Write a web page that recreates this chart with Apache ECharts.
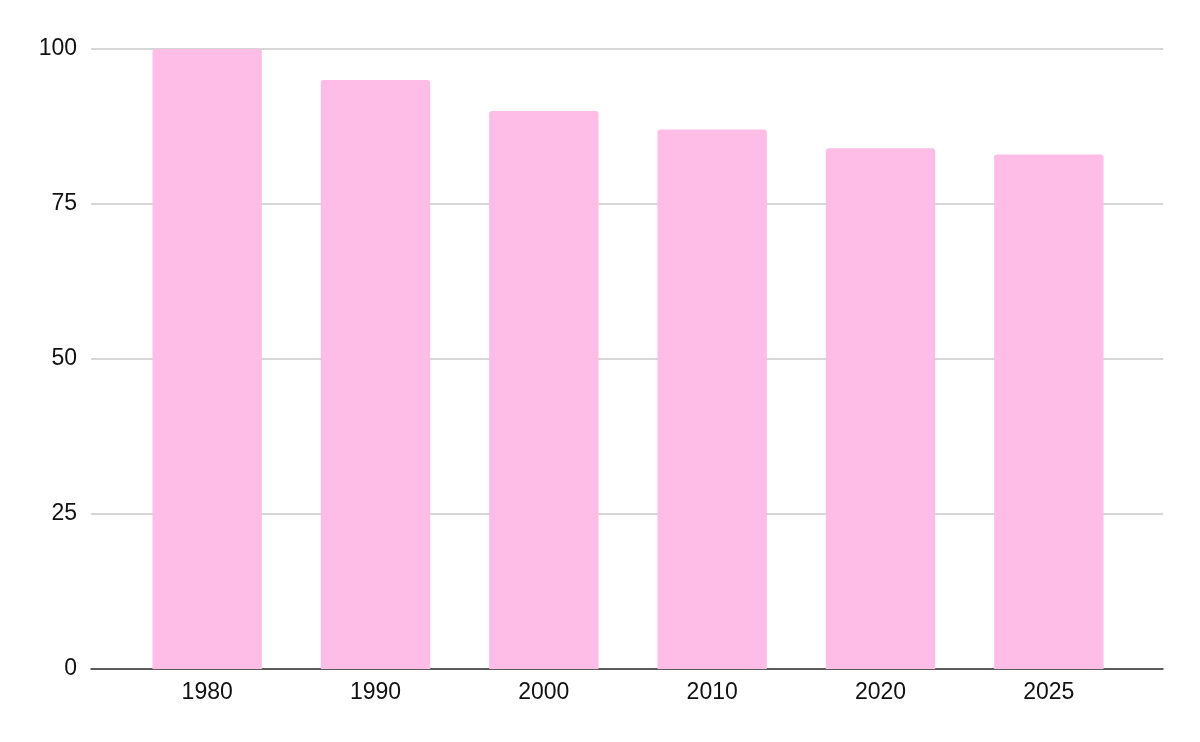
<!DOCTYPE html>
<html>
<head>
<meta charset="utf-8">
<script src="https://cdn.jsdelivr.net/npm/echarts@6/dist/echarts.min.js"></script>
<style>
  html, body { margin: 0; padding: 0; background: #fff; }
  #chart { width: 1200px; height: 742px; }
</style>
</head>
<body>
<div id="chart"></div>
<script>
const years = ['1980', '1990', '2000', '2010', '2020', '2025']
const values = [100, 95, 90, 87, 84, 83]
const yTicks = [0, 25, 50, 75, 100]

const font = 'Liberation Sans, Arial, sans-serif'
const chart = echarts.init(document.getElementById('chart'))

// grid 0 holds the frame (gridlines, y labels, baseline), grid 1 holds the bars
chart.setOption({
  animation: false,
  grid: [
    { left: 91, right: 37, top: 49, bottom: 73 },
    { left: 123, right: 67, top: 49, bottom: 73 }
  ],
  xAxis: [
    {
      gridIndex: 0, type: 'category', data: years,
      axisLine: { lineStyle: { color: '#333', width: 1.5 } },
      axisTick: { show: false }, axisLabel: { show: false }
    },
    {
      gridIndex: 1, type: 'category', data: years,
      axisLine: { show: false }, axisTick: { show: false },
      axisLabel: { color: '#111', fontSize: 23, fontFamily: font, margin: 12 }
    }
  ],
  yAxis: [
    {
      gridIndex: 0, type: 'value', min: yTicks[0], max: yTicks[yTicks.length - 1], interval: 25,
      axisLine: { show: false }, axisTick: { show: false },
      axisLabel: { color: '#111', fontSize: 23, fontFamily: font, margin: 14 },
      splitLine: { lineStyle: { color: '#c8c8c8', width: 1.5 } }
    },
    {
      gridIndex: 1, type: 'value', min: 0, max: 100, show: false
    }
  ],
  series: [{
    type: 'bar',
    xAxisIndex: 1, yAxisIndex: 1,
    data: values,
    barCategoryGap: '35%',
    itemStyle: { color: '#fdbde6', borderRadius: [3, 3, 0, 0] }
  }]
})
</script>
</body>
</html>
